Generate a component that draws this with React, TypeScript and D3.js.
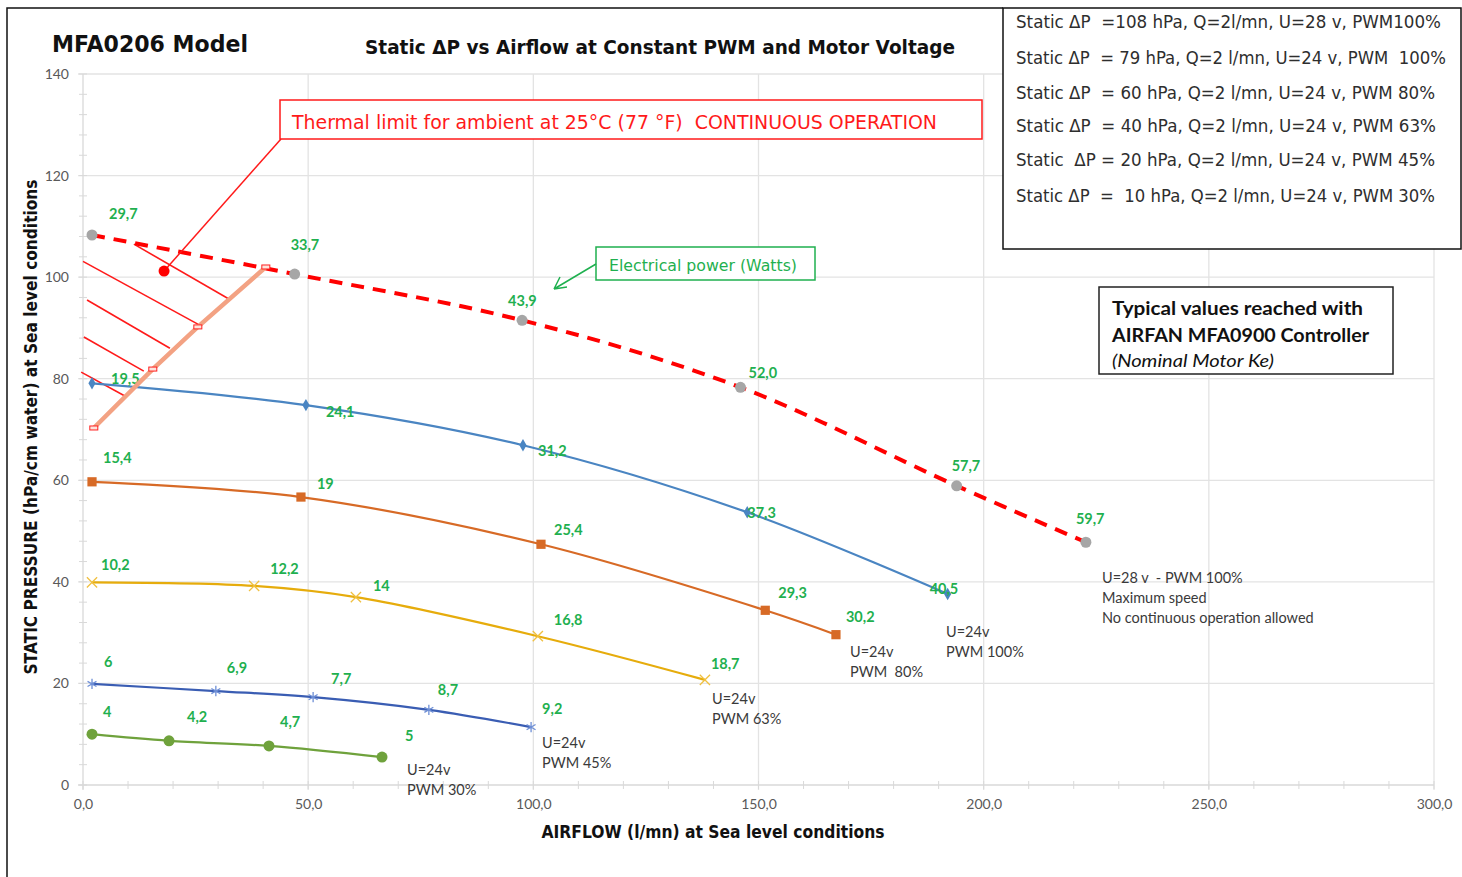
import { useEffect, useRef } from 'react';
import * as d3 from 'd3';

const W = 1462;
const H = 877;
const M = { left: 83, right: 1434, top: 74, bottom: 785 };

// --- data: airflow (l/mn), static pressure (hPa), electrical power (W)
const flow28v100 = [2, 47, 97.5, 146, 194, 222.7];
const pres28v100 = [108.3, 100.6, 91.5, 78.3, 58.9, 47.8];
const watt28v100 = ['29,7', '33,7', '43,9', '52,0', '57,7', '59,7'];

const flow24v100 = [2, 49.5, 97.7, 147.5, 192];
const pres24v100 = [79.1, 74.8, 66.9, 53.7, 37.6];
const watt24v100 = ['19,5', '24,1', '31,2', '37,3', '40,5'];

const flow24v80 = [2, 48.4, 101.7, 151.5, 167.2];
const pres24v80 = [59.7, 56.7, 47.4, 34.4, 29.6];
const watt24v80 = ['15,4', '19', '25,4', '29,3', '30,2'];

const flow24v63 = [2, 38, 60.6, 101, 138.1];
const pres24v63 = [39.9, 39.2, 37.0, 29.3, 20.7];
const watt24v63 = ['10,2', '12,2', '14', '16,8', '18,7'];

const flow24v45 = [2, 29.5, 51.1, 76.8, 99.5];
const pres24v45 = [19.9, 18.5, 17.3, 14.8, 11.4];
const watt24v45 = ['6', '6,9', '7,7', '8,7', '9,2'];

const flow24v30 = [2, 19.1, 41.3, 66.4];
const pres24v30 = [10.0, 8.7, 7.7, 5.5];
const watt24v30 = ['4', '4,2', '4,7', '5'];

// thermal limit (continuous operation at 25°C ambient)
const thermalFlow = [2.4, 15.5, 25.5, 40.6];
const thermalPres = [70.3, 81.9, 90.2, 102];
const hatchStart: [number, number][] = [[11.3, 106.5], [0, 103.1], [0.9, 95.5], [0.2, 88.2], [-0.4, 81.3]];
const hatchEnd: [number, number][] = [[32.4, 95.7], [25.8, 90.6], [19.3, 86.0], [13.5, 81.5], [9.3, 76.6]];
const thermalPoint: [number, number] = [18, 101.2];

const xTicks = [0, 50, 100, 150, 200, 250, 300];
const yTicks = [0, 20, 40, 60, 80, 100, 120, 140];

const legendLines = [
  'Static \u0394P  =108 hPa, Q=2l/mn, U=28 v, PWM100%',
  'Static \u0394P  = 79 hPa, Q=2 l/mn, U=24 v, PWM  100%',
  'Static \u0394P  = 60 hPa, Q=2 l/mn, U=24 v, PWM 80%',
  'Static \u0394P  = 40 hPa, Q=2 l/mn, U=24 v, PWM 63%',
  'Static  \u0394P = 20 hPa, Q=2 l/mn, U=24 v, PWM 45%',
  'Static \u0394P  =  10 hPa, Q=2 l/mn, U=24 v, PWM 30%',
];

const CG = "'DejaVu Sans', sans-serif";
const CAL = "Lato, 'Open Sans', sans-serif";
const GREEN = '#1fb04f';

type Marker = 'circle' | 'diamond' | 'square' | 'x' | 'star';

interface Series {
  flow: number[];
  pres: number[];
  watts: string[];
  color: string;
  markerColor: string;
  marker: Marker;
  width: number;
  dash?: string;
  labelOff: [number, number][];
  note: string[];
  noteAt: [number, number];
}

const series: Series[] = [
  {
    flow: flow24v30, pres: pres24v30, watts: watt24v30, color: '#6fa23c', markerColor: '#6fa23c', marker: 'circle', width: 2.2,
    labelOff: [[11, -23], [18, -24], [11, -24], [23, -22]], note: ['U=24v', 'PWM 30%'], noteAt: [407, 769],
  },
  {
    flow: flow24v45, pres: pres24v45, watts: watt24v45, color: '#3a5db3', markerColor: '#6e8fd6', marker: 'star', width: 2.2,
    labelOff: [[12, -22], [11, -24], [18, -19], [9, -20], [11, -19]], note: ['U=24v', 'PWM 45%'], noteAt: [542, 742],
  },
  {
    flow: flow24v63, pres: pres24v63, watts: watt24v63, color: '#e6ac0c', markerColor: '#f0c040', marker: 'x', width: 2.2,
    labelOff: [[9, -18], [16, -17], [17, -12], [16, -17], [6, -16]], note: ['U=24v', 'PWM 63%'], noteAt: [712, 698],
  },
  {
    flow: flow24v80, pres: pres24v80, watts: watt24v80, color: '#d76a26', markerColor: '#d76a26', marker: 'square', width: 2.2,
    labelOff: [[11, -24], [16, -14], [13, -15], [13, -18], [10, -18]], note: ['U=24v', 'PWM  80%'], noteAt: [850, 651],
  },
  {
    flow: flow24v100, pres: pres24v100, watts: watt24v100, color: '#4a85c2', markerColor: '#4a85c2', marker: 'diamond', width: 2.2,
    labelOff: [[19, -5], [20, 6], [15, 5], [0, 0], [-18, -6]], note: ['U=24v', 'PWM 100%'], noteAt: [946, 631],
  },
  {
    flow: flow28v100, pres: pres28v100, watts: watt28v100, color: '#ff0000', markerColor: '#a6a6a6', marker: 'circle', width: 4, dash: '13,9',
    labelOff: [[17, -21], [-4, -30], [-14, -20], [8, -15], [-5, -20], [-10, -24]],
    note: ['U=28 v  - PWM 100%', 'Maximum speed', 'No continuous operation allowed'], noteAt: [1102, 577],
  },
];

export default function App() {
  const svgRef = useRef<SVGSVGElement>(null);

  useEffect(() => {
    const svg = d3.select(svgRef.current);
    svg.selectAll('*').remove();

    const x = d3.scaleLinear().domain([0, 300]).range([M.left, M.right]);
    const y = d3.scaleLinear().domain([0, 140]).range([M.bottom, M.top]);

    svg.append('rect').attr('width', W).attr('height', H).attr('fill', '#fff');

    // grid
    const grid = svg.append('g');
    grid.selectAll('.hg').data(yTicks.slice(1)).enter().append('line')
      .attr('x1', M.left - 5).attr('x2', M.right).attr('y1', (d) => y(d)).attr('y2', (d) => y(d))
      .attr('stroke', '#e3e3e3').attr('stroke-width', 1.3);
    grid.selectAll('.vg').data(xTicks.slice(1)).enter().append('line')
      .attr('x1', (d) => x(d)).attr('x2', (d) => x(d)).attr('y1', M.top).attr('y2', M.bottom + 5)
      .attr('stroke', '#e3e3e3').attr('stroke-width', 1.3);
    grid.selectAll('.ymin').data(d3.range(0, 141, 4)).enter().append('line')
      .attr('x1', M.left - 4).attr('x2', M.left + 4).attr('y1', (d) => y(d)).attr('y2', (d) => y(d))
      .attr('stroke', '#d9d9d9').attr('stroke-width', 1);
    grid.selectAll('.xmin').data(d3.range(0, 301, 10)).enter().append('line')
      .attr('x1', (d) => x(d)).attr('x2', (d) => x(d)).attr('y1', M.bottom - 4).attr('y2', M.bottom + 4)
      .attr('stroke', '#d9d9d9').attr('stroke-width', 1);
    grid.append('line').attr('x1', M.left).attr('x2', M.left).attr('y1', M.top).attr('y2', M.bottom + 5)
      .attr('stroke', '#d9d9d9').attr('stroke-width', 1.3);
    grid.append('line').attr('x1', M.left - 5).attr('x2', M.right).attr('y1', M.bottom).attr('y2', M.bottom)
      .attr('stroke', '#d9d9d9').attr('stroke-width', 1.3);

    // axes labels
    const xAxis = svg.append('g').attr('transform', `translate(0,${M.bottom})`)
      .call(d3.axisBottom(x).tickValues(xTicks).tickSize(0).tickPadding(14)
        .tickFormat((d) => (d as number).toFixed(1).replace('.', ',')));
    const yAxis = svg.append('g').attr('transform', `translate(${M.left},0)`)
      .call(d3.axisLeft(y).tickValues(yTicks).tickSize(0).tickPadding(14));
    [xAxis, yAxis].forEach((a) => {
      a.select('.domain').remove();
      a.selectAll('text').attr('fill', '#595959').attr('font-size', 14).attr('font-family', CAL);
    });

    // thermal-limit hatching
    hatchStart.forEach((s, i) => {
      svg.append('line')
        .attr('x1', x(s[0])).attr('y1', y(s[1])).attr('x2', x(hatchEnd[i][0])).attr('y2', y(hatchEnd[i][1]))
        .attr('stroke', '#ff1a1a').attr('stroke-width', 1.6);
    });

    // series
    const smooth = d3.line().curve(d3.curveCatmullRom.alpha(0.5));

    series.forEach((s) => {
      const pts: [number, number][] = s.flow.map((f, i) => [x(f), y(s.pres[i])]);
      svg.append('path')
        .attr('d', smooth(pts))
        .attr('fill', 'none').attr('stroke', s.color).attr('stroke-width', s.width)
        .attr('stroke-dasharray', s.dash ?? null);
      pts.forEach(([px, py]) => {
        const g = svg.append('g').attr('transform', `translate(${px},${py})`);
        if (s.marker === 'circle') {
          g.append('circle').attr('r', 5.5).attr('fill', s.markerColor);
        } else if (s.marker === 'diamond') {
          g.append('path').attr('d', d3.symbol(d3.symbolDiamond, 45)()).attr('fill', s.markerColor);
        } else if (s.marker === 'square') {
          g.append('path').attr('d', d3.symbol(d3.symbolSquare, 85)()).attr('fill', s.markerColor);
        } else if (s.marker === 'x') {
          g.append('path').attr('d', d3.symbol(d3.symbolX, 70)()).attr('fill', 'none')
            .attr('stroke', s.markerColor).attr('stroke-width', 1.3);
        } else {
          g.append('path').attr('d', d3.symbol(d3.symbolAsterisk, 75)()).attr('fill', 'none')
            .attr('stroke', s.markerColor).attr('stroke-width', 1.3);
        }
      });
      // electrical power labels
      pts.forEach(([px, py], i) => {
        svg.append('text')
          .attr('x', px + s.labelOff[i][0]).attr('y', py + s.labelOff[i][1])
          .attr('dominant-baseline', 'central')
          .attr('font-family', CAL).attr('font-weight', 700).attr('font-size', 14.5)
          .attr('fill', GREEN).text(s.watts[i]);
      });
      // curve notes
      s.note.forEach((t, i) => {
        svg.append('text')
          .attr('x', s.noteAt[0]).attr('y', s.noteAt[1] + i * 20)
          .attr('dominant-baseline', 'central')
          .attr('font-family', CAL).attr('font-size', 14.5).attr('fill', '#3a3a3a')
          .style('white-space', 'pre').text(t);
      });
    });

    // thermal limit line
    const tPts: [number, number][] = thermalFlow.map((f, i) => [x(f), y(thermalPres[i])]);
    svg.append('path').attr('d', d3.line()(tPts)).attr('fill', 'none')
      .attr('stroke', '#f3a283').attr('stroke-width', 4.5);
    tPts.forEach(([px, py]) => {
      svg.append('rect').attr('x', px - 4).attr('y', py - 2).attr('width', 8).attr('height', 4)
        .attr('fill', '#fde4dc').attr('stroke', '#ff2020').attr('stroke-width', 1);
    });

    // thermal callout
    const [tx, ty] = [x(thermalPoint[0]), y(thermalPoint[1])];
    svg.append('line').attr('x1', tx).attr('y1', ty).attr('x2', 281).attr('y2', 139)
      .attr('stroke', '#ff1a1a').attr('stroke-width', 1.5);
    svg.append('circle').attr('cx', tx).attr('cy', ty).attr('r', 5.5).attr('fill', '#ff0000');
    svg.append('rect').attr('x', 280).attr('y', 100).attr('width', 702).attr('height', 39)
      .attr('fill', '#fff').attr('stroke', '#ff1a1a').attr('stroke-width', 1.5);
    svg.append('text').attr('x', 292).attr('y', 122).attr('dominant-baseline', 'central')
      .attr('font-family', CG).attr('font-size', 20).attr('fill', '#ff1a1a')
      .attr('textLength', 645).attr('lengthAdjust', 'spacingAndGlyphs')
      .style('white-space', 'pre')
      .text('Thermal limit for ambient at 25\u00b0C (77 \u00b0F)  CONTINUOUS OPERATION');

    // electrical power callout
    svg.append('rect').attr('x', 596).attr('y', 247).attr('width', 219).attr('height', 33)
      .attr('fill', '#fff').attr('stroke', GREEN).attr('stroke-width', 1.5);
    svg.append('text').attr('x', 609).attr('y', 265).attr('dominant-baseline', 'central')
      .attr('font-family', CG).attr('font-size', 16).attr('fill', GREEN)
      .attr('textLength', 188).attr('lengthAdjust', 'spacingAndGlyphs')
      .text('Electrical power (Watts)');
    svg.append('path').attr('d', 'M596,264 L554,289 M554,289 L567,287 M554,289 L560,277')
      .attr('fill', 'none').attr('stroke', GREEN).attr('stroke-width', 1.5);

    // titles
    svg.append('text').attr('x', 52).attr('y', 44).attr('dominant-baseline', 'central')
      .attr('font-family', CG).attr('font-weight', 700).attr('font-size', 23).attr('fill', '#111')
      .attr('textLength', 196).attr('lengthAdjust', 'spacingAndGlyphs').text('MFA0206 Model');
    svg.append('text').attr('x', 365).attr('y', 47).attr('dominant-baseline', 'central')
      .attr('font-family', CG).attr('font-weight', 700).attr('font-size', 20).attr('fill', '#111')
      .attr('textLength', 590).attr('lengthAdjust', 'spacingAndGlyphs')
      .text('Static \u0394P vs Airflow at Constant PWM and Motor Voltage');
    svg.append('text').attr('x', 713).attr('y', 832).attr('text-anchor', 'middle').attr('dominant-baseline', 'central')
      .attr('font-family', CG).attr('font-weight', 700).attr('font-size', 17).attr('fill', '#111')
      .attr('textLength', 343).attr('lengthAdjust', 'spacingAndGlyphs')
      .text('AIRFLOW (l/mn) at Sea level conditions');
    svg.append('text').attr('transform', 'translate(31,427) rotate(-90)')
      .attr('text-anchor', 'middle').attr('dominant-baseline', 'central')
      .attr('font-family', CG).attr('font-weight', 700).attr('font-size', 17).attr('fill', '#111')
      .attr('textLength', 495).attr('lengthAdjust', 'spacingAndGlyphs')
      .text('STATIC PRESSURE (hPa/cm water) at Sea level conditions');

    // frame
    svg.append('path').attr('d', `M7,${H} L7,8 L1003,8`).attr('fill', 'none')
      .attr('stroke', '#111').attr('stroke-width', 1.5);

    // legend box
    svg.append('rect').attr('x', 1003).attr('y', 8).attr('width', 458).attr('height', 241)
      .attr('fill', '#fff').attr('stroke', '#111').attr('stroke-width', 1.5);
    const legendY = [22, 58, 93, 126, 160, 196];
    const legendLen = [425, 430, 419, 420, 419, 419];
    legendLines.forEach((t, i) => {
      svg.append('text').attr('x', 1016).attr('y', legendY[i]).attr('dominant-baseline', 'central')
        .attr('font-family', CG).attr('font-size', 17).attr('fill', '#2e2e2e')
        .attr('textLength', legendLen[i]).attr('lengthAdjust', 'spacingAndGlyphs')
        .style('white-space', 'pre').text(t);
    });

    // controller box
    svg.append('rect').attr('x', 1099).attr('y', 287).attr('width', 294).attr('height', 87)
      .attr('fill', '#fff').attr('stroke', '#222').attr('stroke-width', 1.5);
    svg.append('text').attr('x', 1112).attr('y', 307).attr('dominant-baseline', 'central')
      .attr('font-family', CAL).attr('font-weight', 700).attr('font-size', 19).attr('fill', '#111')
      .attr('textLength', 251).attr('lengthAdjust', 'spacingAndGlyphs').text('Typical values reached with');
    svg.append('text').attr('x', 1112).attr('y', 334).attr('dominant-baseline', 'central')
      .attr('font-family', CAL).attr('font-weight', 700).attr('font-size', 19).attr('fill', '#111')
      .attr('textLength', 257).attr('lengthAdjust', 'spacingAndGlyphs').text('AIRFAN MFA0900 Controller');
    svg.append('text').attr('x', 1112).attr('y', 360).attr('dominant-baseline', 'central')
      .attr('font-family', CAL).attr('font-style', 'italic').attr('font-size', 18).attr('fill', '#111')
      .attr('textLength', 162).attr('lengthAdjust', 'spacingAndGlyphs').text('(Nominal Motor Ke)');
  }, []);

  return (
    <svg
      ref={svgRef}
      width={W}
      height={H}
      style={{ position: 'absolute', left: 0, top: 0, display: 'block' }}
    />
  );
}
